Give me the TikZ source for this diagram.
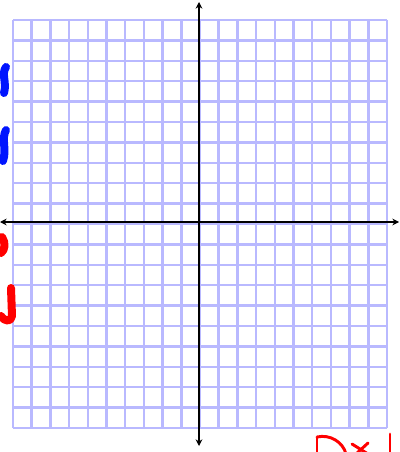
\documentclass[tikz,border=0pt]{standalone}
\usetikzlibrary{arrows.meta}

\definecolor{gridblue}{RGB}{185,185,255}
\definecolor{inkblue}{RGB}{0,20,255}
\definecolor{inkred}{RGB}{255,0,0}

\tikzset{
  gridline/.style={color=gridblue, line width=1.9pt},
  axisline/.style={color=black, line width=1.6pt, {Stealth[length=5pt,width=5pt]}-{Stealth[length=5pt,width=5pt]}},
  bluestroke/.style={color=inkblue, line width=6pt, line cap=round, line join=round},
  redstroke/.style={color=inkred, line width=6pt, line cap=round, line join=round},
  redpen/.style={color=inkred, line width=2.2pt, line cap=round, line join=round}
}

\begin{document}
\begin{tikzpicture}[x=0.75pt,y=0.75pt,yscale=-1]
	%set diagram left start at 0, and has height of 452
	\useasboundingbox (0,0) rectangle (399,452);
	
	%Grid: 20 x 20 cells
	\foreach \i in {0,...,20} {
		\draw [gridline] ({13+\i*18.7},20) -- ({13+\i*18.7},428) ;
		\draw [gridline] (13,{20+\i*20.4}) -- (387,{20+\i*20.4}) ;
	}
	
	%Axis ends
	\coordinate (xleft) at (0,222) ;
	\coordinate (xright) at (399,222) ;
	\coordinate (ytop) at (199,2) ;
	\coordinate (ybottom) at (199,446) ;
	
	%Straight Lines: axes
	\draw [axisline] (xleft) -- (xright) ;
	\draw [axisline] (ybottom) -- (ytop) ;
	
	%Blue marks
	\draw [bluestroke] (6,67) .. controls (1,74) and (7,82) .. (4,93) ;
	\draw [bluestroke] (6,130) .. controls (1,139) and (7,149) .. (3,161) ;
	
	%Red marks
	\draw [redstroke] (2,237) .. controls (6,243) and (5,250) .. (1,253) ;
	\draw [redstroke] (11,288) -- (12,316) .. controls (11,322) and (5,322) .. (1,316) ;
	
	%Red pen: D x |
	\draw [redpen] (317,438) -- (317,454) ;
	\draw [redpen] (317,437) .. controls (330,434) and (343,442) .. (346,454) ;
	\draw [redpen] (352,444) -- (368,454) ;
	\draw [redpen] (368,443) -- (356,454) ;
	\draw [redpen] (390,434) -- (390,454) ;
	
\end{tikzpicture}
\end{document}
